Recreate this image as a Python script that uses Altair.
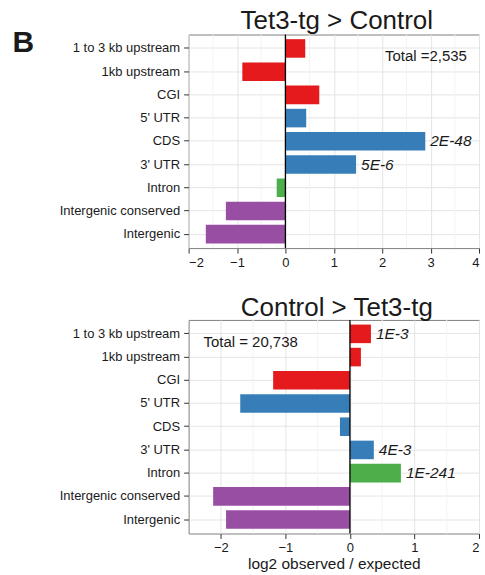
import altair as alt
import pandas as pd

categories = ["1 to 3 kb upstream", "1kb upstream", "CGI", "5' UTR", "CDS",
              "3' UTR", "Intron", "Intergenic conserved", "Intergenic"]
groups = ["regulatory", "regulatory", "regulatory", "genic", "genic",
          "genic", "intron", "intergenic", "intergenic"]
group_names = ["regulatory", "genic", "intron", "intergenic"]
group_colors = ["#E41A1C", "#377EB8", "#4DAF4A", "#984EA3"]

top_values = [0.41, -0.89, 0.70, 0.43, 2.89, 1.46, -0.18, -1.23, -1.645]
top_pvals = ["", "", "", "", "2E-48", "5E-6", "", "", ""]
bottom_values = [0.325, 0.17, -1.19, -1.70, -0.155, 0.37, 0.79, -2.12, -1.92]
bottom_pvals = ["1E-3", "", "", "", "", "4E-3", "1E-241", "", ""]

top_domain = [-2, 4]
top_major = [-2, -1, 0, 1, 2, 3, 4]
top_minor = [-1.5, -0.5, 0.5, 1.5, 2.5, 3.5]
bottom_domain = [-2.5, 2]
bottom_major = [-2, -1, 0, 1, 2]
bottom_minor = [-1.5, -0.5, 0.5, 1.5]

FONT = "Liberation Sans"
TEXT = "#1a1a1a"
W, H = 291, 214


def panel(values, pvals, domain, major, minor, title, title_offset,
          total_text, total_x, total_align, xtitle, extra=None):
    df = pd.DataFrame({"category": categories, "value": values,
                       "group": groups, "pval": pvals})
    xscale = alt.Scale(domain=domain, nice=False, zero=False)
    yscale = alt.Scale(domain=categories, paddingInner=0.2, paddingOuter=0.2)
    xaxis = alt.Axis(values=major, format="d", grid=True, gridColor="#e4e4e4",
                     gridWidth=1, domain=False, tickSize=5, tickColor="#333",
                     labelFontSize=13, labelColor=TEXT, labelPadding=3,
                     title=xtitle if xtitle else None,
                     titleFontSize=15.5, titleFontWeight="normal",
                     titleColor=TEXT, titlePadding=2)
    yaxis = alt.Axis(title=None, grid=True, gridColor="#e4e4e4",
                     bandPosition=0.5, domain=False, tickSize=5,
                     tickColor="#333", labelFontSize=13, labelColor=TEXT,
                     labelPadding=4)

    minor_df = pd.DataFrame({"x": minor})
    minor_rules = alt.Chart(minor_df).mark_rule(
        color="#f3f3f3", strokeWidth=1).encode(
        x=alt.X("x:Q", scale=xscale, axis=xaxis))

    bars = alt.Chart(df).mark_bar().encode(
        x=alt.X("value:Q", scale=xscale, axis=xaxis),
        y=alt.Y("category:N", scale=yscale, axis=yaxis, sort=categories),
        color=alt.Color("group:N", scale=alt.Scale(domain=group_names,
                                                   range=group_colors),
                        legend=None),
    )
    zero = alt.Chart(pd.DataFrame({"x": [0]})).mark_rule(
        color="black", strokeWidth=1.3).encode(
        x=alt.X("x:Q", scale=xscale))
    labels = alt.Chart(df[df["pval"] != ""]).mark_text(
        align="left", baseline="middle", dx=5, fontSize=15.5,
        fontStyle="italic", font=FONT, color=TEXT).encode(
        x=alt.X("value:Q", scale=xscale),
        y=alt.Y("category:N", scale=yscale, sort=categories),
        text="pval:N")
    total = alt.Chart(pd.DataFrame({"x": [total_x], "t": [total_text]})).mark_text(
        align=total_align, baseline="middle", fontSize=15, font=FONT,
        color=TEXT).encode(
        x=alt.X("x:Q", scale=xscale), y=alt.value(22), text="t:N")
    layers = [minor_rules, bars, zero, labels, total]
    if extra is not None:
        layers.append(extra)
    return alt.layer(*layers).properties(
        width=W, height=H,
        title=alt.TitleParams(title, fontSize=26, fontWeight="normal",
                              color=TEXT, font=FONT, offset=title_offset,
                              dx=3))


letter = alt.Chart(pd.DataFrame({"t": ["B"]})).mark_text(
    align="left", baseline="alphabetic", fontSize=30, fontWeight="bold",
    font=FONT, color=TEXT).encode(
    x=alt.value(-176.5), y=alt.value(17.5), text="t:N")

top = panel(top_values, top_pvals, top_domain, top_major, top_minor,
            "Tet3-tg > Control", -6, "Total =2,535", 3.75, "right", None,
            extra=letter)
bottom = panel(bottom_values, bottom_pvals, bottom_domain, bottom_major,
               bottom_minor, "Control > Tet3-tg", -2, "Total = 20,738", -2.27,
               "left", "log2 observed / expected")

chart = alt.vconcat(top, bottom, spacing=24).properties(
    padding={"left": 12, "top": 7, "right": 5, "bottom": 5}
).configure(font=FONT).configure_view(
    stroke="#7f7f7f", strokeWidth=1
).configure_axis(labelFont=FONT, titleFont=FONT)

chart.save("out.html", embed_options={"renderer": "svg", "actions": False})
